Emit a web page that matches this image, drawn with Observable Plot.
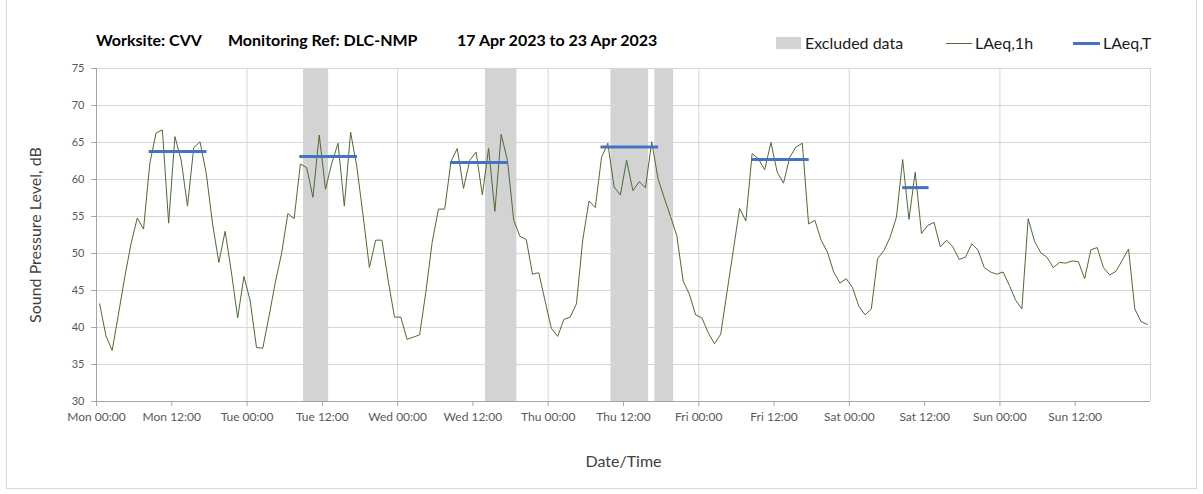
<!DOCTYPE html>
<html>
<head>
<meta charset="utf-8">
<script src="https://cdn.jsdelivr.net/npm/d3@7"></script>
<script src="https://cdn.jsdelivr.net/npm/@observablehq/plot@0.6"></script>
<style>
  html, body { margin: 0; padding: 0; background: #fff; }
  body { width: 1203px; height: 494px; overflow: hidden; font-family: Lato, "Open Sans", sans-serif; }
  #wrap { position: relative; width: 1203px; height: 494px; }
  #border { position: absolute; left: 6px; top: -1px; width: 1191px; height: 490px; border: 1px solid #d9d9d9; box-sizing: border-box; pointer-events: none; }
  #header { position: relative; height: 58px; }
  .t { position: absolute; top: 30px; font-weight: 700; font-size: 16px; color: #000; white-space: nowrap; line-height: 20px; }
  .lg { position: absolute; top: 33px; font-size: 16px; color: #1a1a1a; white-space: nowrap; line-height: 20px; }
  .sw { position: absolute; }
</style>
</head>
<body>
<div id="wrap">
  <div id="border"></div>
  <div id="header"></div>
  <div id="chart"></div>
</div>
<script>
// ---- data ----
const titleParts = ["Worksite: CVV", "Monitoring Ref: DLC-NMP", "17 Apr 2023 to 23 Apr 2023"];
const legendLabels = ["Excluded data", "LAeq,1h", "LAeq,T"];
const yLabel = "Sound Pressure Level, dB";
const xLabel = "Date/Time";

// hourly readings, timestamped at hh:30 from Mon 00:30
const hourOffset = 0.5;
const laeq1h = [
  43.2, 38.9, 36.9, 41.8, 46.8, 51.3, 54.8, 53.3, 62.2, 66.3, 66.7, 54.1, 65.8, 62.6, 56.4, 64.3, 65.1, 60.8, 54.0, 48.8, 53.0, 47.5, 41.3, 46.9,
  43.6, 37.3, 37.2, 41.5, 46.1, 50.0, 55.4, 54.7, 62.1, 61.6, 57.6, 66.0, 58.7, 62.2, 64.9, 56.4, 66.4, 61.7, 55.1, 48.1, 51.8, 51.8, 46.3, 41.4,
  41.4, 38.4, 38.7, 39.0, 44.8, 51.5, 56.0, 56.0, 62.4, 64.2, 58.8, 62.6, 63.7, 57.9, 64.2, 55.7, 66.1, 62.6, 54.5, 52.3, 51.9, 47.2, 47.4, 43.6,
  39.9, 38.8, 41.1, 41.4, 43.2, 51.8, 57.1, 56.2, 63.0, 64.9, 59.0, 57.9, 62.6, 58.5, 59.7, 58.9, 65.1, 60.1, 57.5, 55.0, 52.4, 46.3, 44.5, 41.7,
  41.3, 39.3, 37.8, 39.1, 44.8, 50.4, 56.1, 54.4, 63.5, 62.8, 61.3, 65.0, 61.0, 59.5, 63.0, 64.4, 64.9, 54.0, 54.5, 51.8, 50.2, 47.5, 46.0, 46.6,
  45.4, 42.9, 41.7, 42.5, 49.3, 50.4, 52.2, 54.9, 62.7, 54.6, 61.0, 52.7, 53.8, 54.2, 50.9, 51.8, 50.9, 49.2, 49.5, 51.3, 50.5, 48.1, 47.5, 47.2,
  47.5, 45.7, 43.7, 42.5, 54.7, 51.7, 50.1, 49.5, 48.1, 48.8, 48.7, 49.0, 48.9, 46.6, 50.5, 50.8, 48.1, 47.1, 47.6, 49.1, 50.6, 42.5, 40.8, 40.4
];

// LAeq,T periods (hours from Mon 00:00)
const periodStart = [8.4, 32.4, 56.4, 80.4, 104.4, 128.5];
const periodEnd   = [17.6, 41.6, 65.6, 89.6, 113.6, 132.7];
const laeqT       = [63.8, 63.1, 62.3, 64.4, 62.7, 58.9];

// excluded data periods (hours from Mon 00:00)
const excludedStart = [33, 62, 82, 89];
const excludedEnd   = [37, 67, 88, 92];

const tickHours  = [0, 12, 24, 36, 48, 60, 72, 84, 96, 108, 120, 132, 144, 156];
const tickLabels = ["Mon 00:00", "Mon 12:00", "Tue 00:00", "Tue 12:00", "Wed 00:00", "Wed 12:00", "Thu 00:00", "Thu 12:00", "Fri 00:00", "Fri 12:00", "Sat 00:00", "Sat 12:00", "Sun 00:00", "Sun 12:00"];
const dayHours   = [0, 24, 48, 72, 96, 120, 144, 168];
const yTicks     = [30, 35, 40, 45, 50, 55, 60, 65, 70, 75];

// ---- colours ----
const cLine = "#4f6b31";
const cBlue = "#4472c4";
const cBand = "#d3d3d3";
const cGrid = "#d6d6d6";
const cAxis = "#a6a6a6";
const cTick = "#595959";

// ---- header (HTML, above the SVG) ----
const header = document.getElementById("header");
const titleX = [96, 228, 457];
titleParts.forEach((t, i) => {
  const s = document.createElement("span");
  s.className = "t"; s.textContent = t; s.style.left = titleX[i] + "px";
  header.appendChild(s);
});
function sw(left, top, w, h, color) {
  const d = document.createElement("div");
  d.className = "sw";
  Object.assign(d.style, {left: left + "px", top: top + "px", width: w + "px", height: h + "px", background: color});
  header.appendChild(d);
}
sw(776, 37, 25, 12, cBand);
sw(946, 43, 26, 1, cLine);
sw(1073, 42, 27, 3, cBlue);
const legX = [805, 975, 1103];
legendLabels.forEach((t, i) => {
  const s = document.createElement("span");
  s.className = "lg"; s.textContent = t; s.style.left = legX[i] + "px";
  header.appendChild(s);
});

// ---- chart ----
const series = laeq1h.map((v, i) => ({t: i + hourOffset, v}));
const periods = laeqT.map((v, i) => ({x1: periodStart[i], x2: periodEnd[i], v}));
const excluded = excludedStart.map((s, i) => ({x1: s, x2: excludedEnd[i]}));

const chart = Plot.plot({
  width: 1203,
  height: 436,
  marginLeft: 96,
  marginRight: 53,
  marginTop: 10,
  marginBottom: 93,
  style: {fontFamily: "Lato, 'Open Sans', sans-serif", fontSize: "12px", background: "#fff", overflow: "visible"},
  x: {domain: [0, 168], label: null},
  y: {domain: [30, 75], label: null},
  marks: [
    Plot.rect(excluded, {x1: "x1", x2: "x2", fill: cBand}),
    Plot.gridY(yTicks, {stroke: cGrid, strokeOpacity: 1}),
    Plot.gridX(dayHours, {stroke: cGrid, strokeOpacity: 1}),
    Plot.axisY(yTicks, {tickSize: 5, tickPadding: 7, fontSize: 11, color: cTick, stroke: cAxis, label: null}),
    Plot.axisX(tickHours, {tickSize: 5, tickPadding: 6, fontSize: 12, color: cTick, stroke: cAxis, label: null,
      tickFormat: d => tickLabels[tickHours.indexOf(d)]}),
    Plot.ruleX([0], {stroke: cAxis}),
    Plot.ruleY([30], {stroke: cAxis}),
    Plot.line(series, {x: "t", y: "v", stroke: cLine, strokeWidth: 1}),
    Plot.ruleY(periods, {y: "v", x1: "x1", x2: "x2", stroke: cBlue, strokeWidth: 3}),
    Plot.text([yLabel], {frameAnchor: "left", dx: -61, rotate: -90, textAnchor: "middle", lineAnchor: "middle", fontSize: 16, fill: "#404040"}),
    Plot.text([xLabel], {frameAnchor: "bottom", dy: 60, textAnchor: "middle", lineAnchor: "middle", fontSize: 16, fill: "#404040"})
  ]
});
document.getElementById("chart").appendChild(chart);
</script>
</body>
</html>
